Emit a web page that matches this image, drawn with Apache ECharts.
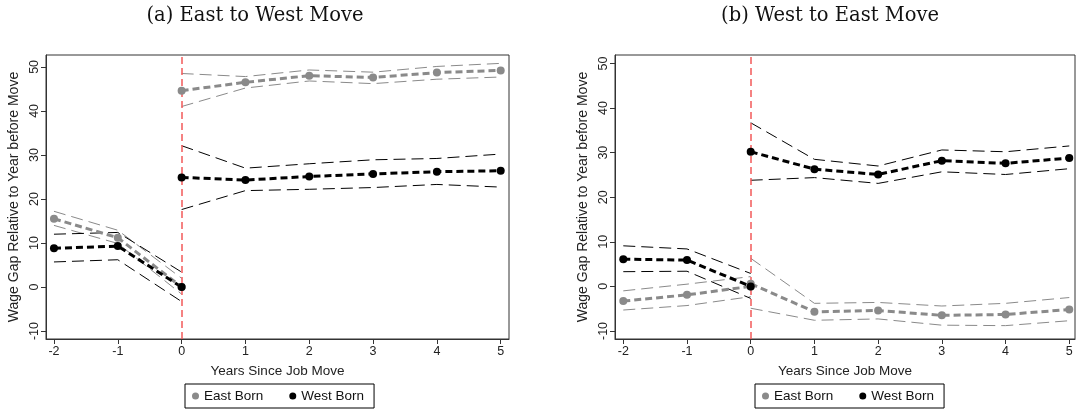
<!DOCTYPE html>
<html><head><meta charset="utf-8">
<script src="https://cdn.jsdelivr.net/npm/echarts@6/dist/echarts.min.js"></script>
<style>html,body{margin:0;padding:0;background:#fff}#c{width:1076px;height:409px}</style>
</head><body><div id="c"></div>
<script>
const preYears = [-2, -1, 0];
const postYears = [0, 1, 2, 3, 4, 5];
const xTicks = [-2, -1, 0, 1, 2, 3, 4, 5];
const yTicks = [-10, 0, 10, 20, 30, 40, 50];
const titles = ['(a) East to West Move', '(b) West to East Move'];
const seriesNames = ['East Born', 'West Born'];

// Panel (a)
const aEastPre = [15.5, 11.2, 0], aEastPreHi = [17.2, 12.9, 2.0], aEastPreLo = [14.0, 9.9, -1.6];
const aWestPre = [8.8, 9.3, 0], aWestPreHi = [12.0, 12.4, 3.4], aWestPreLo = [5.7, 6.2, -3.3];
const aEastPost = [44.6, 46.5, 48.0, 47.6, 48.7, 49.2], aEastPostHi = [48.5, 47.8, 49.3, 48.8, 50.1, 50.8], aEastPostLo = [41.0, 45.2, 46.8, 46.2, 47.2, 47.7];
const aWestPost = [24.9, 24.3, 25.1, 25.7, 26.2, 26.4], aWestPostHi = [32.1, 27.0, 28.0, 28.9, 29.2, 30.2], aWestPostLo = [17.6, 21.9, 22.2, 22.6, 23.3, 22.7];

// Panel (b)
const bEastPre = [-3.3, -1.9, 0], bEastPreHi = [-1.0, 0.5, 2.2], bEastPreLo = [-5.3, -4.3, -2.3];
const bWestPre = [6.1, 5.9, 0], bWestPreHi = [9.1, 8.4, 2.9], bWestPreLo = [3.3, 3.4, -2.7];
const bEastPost = [0.6, -5.7, -5.4, -6.5, -6.3, -5.2], bEastPostHi = [6.3, -3.8, -3.6, -4.4, -3.8, -2.5], bEastPostLo = [-4.9, -7.6, -7.3, -8.7, -8.8, -7.7];
const bWestPost = [30.2, 26.3, 25.1, 28.2, 27.6, 28.8], bWestPostHi = [36.7, 28.5, 27.0, 30.6, 30.2, 31.5], bWestPostLo = [23.8, 24.4, 23.1, 25.7, 25.1, 26.4];

const GRAY = '#8a8a8a', BLACK = '#000000', RED = '#f25a5a';
const zip = (xs, ys) => xs.map((x, i) => [x, ys[i]]);

function mainSeries(name, color, xs, ys, gi) {
  return { type: 'line', name, xAxisIndex: gi, yAxisIndex: gi, data: zip(xs, ys),
    symbol: 'circle', symbolSize: 8, showSymbol: true, animation: false,
    itemStyle: { color }, lineStyle: { color, width: 3, type: [7, 4] }, z: 5 };
}
function ciSeries(color, xs, ys, gi) {
  return { type: 'line', name: 'ci', xAxisIndex: gi, yAxisIndex: gi, data: zip(xs, ys),
    symbol: 'none', animation: false, silent: true,
    lineStyle: { color, width: 1, type: [12, 6] }, z: 3 };
}
function panel(gi, d) {
  const s = [];
  s.push(ciSeries(GRAY, preYears, d.ePreHi, gi), ciSeries(GRAY, preYears, d.ePreLo, gi));
  s.push(ciSeries(GRAY, postYears, d.ePostHi, gi), ciSeries(GRAY, postYears, d.ePostLo, gi));
  s.push(ciSeries(BLACK, preYears, d.wPreHi, gi), ciSeries(BLACK, preYears, d.wPreLo, gi));
  s.push(ciSeries(BLACK, postYears, d.wPostHi, gi), ciSeries(BLACK, postYears, d.wPostLo, gi));
  const ep = mainSeries(seriesNames[0], GRAY, preYears, d.ePre, gi);
  ep.markLine = { silent: true, symbol: 'none', animation: false, label: { show: false },
    lineStyle: { color: RED, width: 1.5, type: [7, 4] }, data: [{ xAxis: 0 }] };
  s.push(ep);
  s.push(mainSeries(seriesNames[0], GRAY, postYears, d.ePost, gi));
  s.push(mainSeries(seriesNames[1], BLACK, preYears, d.wPre, gi));
  s.push(mainSeries(seriesNames[1], BLACK, postYears, d.wPost, gi));
  return s;
}

const series = [].concat(
  panel(0, { ePre: aEastPre, ePreHi: aEastPreHi, ePreLo: aEastPreLo, wPre: aWestPre, wPreHi: aWestPreHi, wPreLo: aWestPreLo,
             ePost: aEastPost, ePostHi: aEastPostHi, ePostLo: aEastPostLo, wPost: aWestPost, wPostHi: aWestPostHi, wPostLo: aWestPostLo }),
  panel(1, { ePre: bEastPre, ePreHi: bEastPreHi, ePreLo: bEastPreLo, wPre: bWestPre, wPreHi: bWestPreHi, wPreLo: bWestPreLo,
             ePost: bEastPost, ePostHi: bEastPostHi, ePostLo: bEastPostLo, wPost: bWestPost, wPostHi: bWestPostHi, wPostLo: bWestPostLo })
);

const FONT = 'Liberation Sans';
function xAxis(gi, min, max) {
  return { type: 'value', gridIndex: gi, min, max,
    name: 'Years Since Job Move', nameLocation: 'middle', nameGap: 25,
    nameTextStyle: { fontFamily: FONT, fontSize: 13.5, color: '#222' },
    axisLine: { show: true, onZero: false, lineStyle: { color: '#333', width: 1 } },
    axisTick: { show: true, length: 5, customValues: xTicks, lineStyle: { color: '#333' } },
    axisLabel: { customValues: xTicks, fontFamily: FONT, fontSize: 12.5, color: '#222', margin: 6 },
    splitLine: { show: false } };
}
function yAxis(gi, min, max) {
  return { type: 'value', gridIndex: gi, min, max,
    name: 'Wage Gap Relative to Year before Move', nameLocation: 'middle', nameGap: 25, nameRotate: 90,
    nameTextStyle: { fontFamily: FONT, fontSize: 14, color: '#222' },
    axisLine: { show: true, onZero: false, lineStyle: { color: '#333', width: 1 } },
    axisTick: { show: true, length: 5, customValues: yTicks, lineStyle: { color: '#333' } },
    axisLabel: { customValues: yTicks, rotate: 90, fontFamily: FONT, fontSize: 12.5, color: '#222', margin: 5 },
    splitLine: { show: false } };
}
function legend(left) {
  return { left, top: 384, orient: 'horizontal', data: seriesNames, icon: 'circle',
    itemWidth: 7, itemHeight: 7, itemGap: 26, padding: [5, 10, 5, 7],
    borderColor: '#000', borderWidth: 1, borderRadius: 0, selectedMode: false,
    textStyle: { fontFamily: FONT, fontSize: 13.5, color: '#111' } };
}

const TITLE_STYLE = { fontFamily: 'DejaVu Serif', fontSize: 19.5, fontWeight: 'normal', color: '#111' };
const option = {
  backgroundColor: '#fff',
  animation: false,
  title: [
    { text: titles[0], left: 250, top: 1, textAlign: 'center', textStyle: TITLE_STYLE },
    { text: titles[1], left: 825, top: 1, textAlign: 'center', textStyle: TITLE_STYLE }
  ],
  legend: [legend(185), legend(755)],
  grid: [
    { left: 46, top: 55, width: 463, height: 284, show: true, borderColor: '#333', borderWidth: 1, backgroundColor: '#fff' },
    { left: 615, top: 55, width: 460, height: 284, show: true, borderColor: '#333', borderWidth: 1, backgroundColor: '#fff' }
  ],
  xAxis: [xAxis(0, -2.125, 5.13), xAxis(1, -2.13, 5.09)],
  yAxis: [yAxis(0, -11.8, 52.7), yAxis(1, -11.8, 51.9)],
  series
};
const chart = echarts.init(document.getElementById('c'), null, { renderer: 'canvas' });
chart.setOption(option);
</script></body></html>
